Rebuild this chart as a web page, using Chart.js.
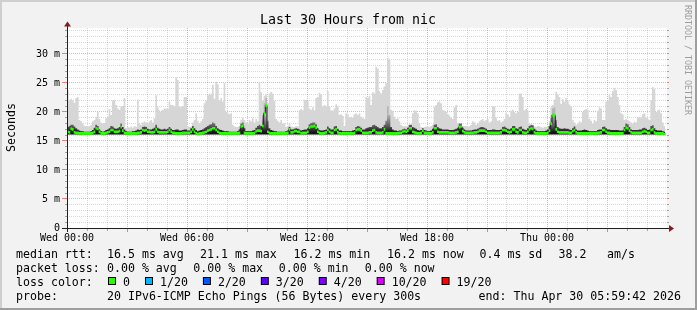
<!DOCTYPE html>
<html>
<head>
<meta charset="UTF-8">
<title>Last 30 Hours from nic</title>
<script src="https://cdn.jsdelivr.net/npm/chart.js"></script>
<style>
  html, body { margin: 0; padding: 0; background: #f2f2f2; }
  canvas { display: block; }
</style>
</head>
<body>
<canvas id="chart" width="697" height="310"></canvas>
<script>
// one value every 5 minutes, Wed 00:00 -> Thu 06:00 (ms)
const stepMinutes = 5;

const median = [
  16.6, 16.6, 16.5, 17.1, 17.0, 16.5, 16.4, 16.4, 16.3, 16.3, 16.3, 16.3, // 00h
  16.3, 16.3, 16.3, 16.3, 16.4, 16.6, 17.2, 17.1, 16.6, 16.3, 16.3, 16.3,
  16.4, 16.5, 16.6, 16.9, 16.9, 16.6, 16.6, 16.6, 16.7, 17.4, 16.8, 16.4,
  16.3, 16.3, 16.3, 16.3, 16.3, 16.3, 16.3, 16.4, 16.4, 16.5, 16.9, 16.8,
  16.9, 16.6, 16.6, 16.5, 16.5, 16.6, 17.0, 16.6, 16.5, 16.5, 16.5, 16.5,
  16.5, 16.6, 16.9, 16.6, 16.4, 16.4, 16.3, 16.3, 16.3, 16.3, 16.4, 16.4,
  16.4, 16.4, 16.4, 16.6, 17.0, 16.6, 16.3, 16.2, 16.3, 16.3, 16.4, 16.5, // 06h
  16.6, 16.8, 16.9, 17.0, 17.2, 17.2, 16.9, 16.6, 16.4, 16.3, 16.3, 16.3,
  16.3, 16.3, 16.3, 16.3, 16.3, 16.3, 16.3, 16.3, 16.4, 17.5, 17.6, 16.4,
  16.3, 16.3, 16.3, 16.3, 16.3, 16.4, 16.7, 16.8, 16.8, 16.7, 17.6, 19.8,
  21.1, 16.6, 16.4, 16.3, 16.3, 16.3, 16.3, 16.3, 16.3, 16.3, 16.3, 16.3,
  16.3, 16.4, 17.0, 16.5, 16.5, 16.7, 16.7, 16.6, 16.6, 16.3, 16.4, 16.4,
  16.4, 16.6, 17.3, 17.5, 17.5, 17.6, 17.3, 16.6, 16.4, 16.3, 16.3, 16.4, // 12h
  16.5, 16.9, 16.6, 16.4, 16.4, 16.9, 17.0, 16.5, 16.3, 16.3, 16.3, 16.3,
  16.3, 16.3, 16.3, 16.3, 16.3, 16.4, 16.9, 17.0, 17.0, 16.8, 16.4, 16.4,
  16.4, 16.4, 16.5, 16.5, 16.8, 16.9, 16.5, 16.4, 16.4, 16.4, 16.5, 17.0,
  16.3, 16.3, 16.3, 16.3, 16.3, 16.3, 16.3, 16.3, 16.4, 16.4, 16.6, 16.7,
  16.6, 16.8, 17.2, 17.2, 16.6, 16.5, 16.4, 16.3, 16.3, 16.4, 16.8, 16.4,
  16.4, 16.3, 16.3, 16.3, 16.5, 17.2, 17.2, 16.6, 16.5, 16.5, 16.5, 16.5, // 18h
  16.5, 16.5, 16.4, 16.4, 16.4, 16.4, 16.5, 16.6, 17.4, 17.5, 16.7, 16.5,
  16.4, 16.4, 16.4, 16.4, 16.4, 16.5, 16.5, 16.6, 16.8, 16.8, 16.8, 16.8,
  16.6, 16.4, 16.4, 16.4, 16.4, 16.4, 16.4, 16.4, 16.4, 16.5, 16.9, 16.9,
  16.8, 16.6, 16.5, 16.6, 17.0, 17.0, 16.6, 16.5, 16.9, 16.9, 16.5, 16.4,
  16.4, 16.6, 17.0, 17.2, 17.1, 16.5, 16.3, 16.3, 16.3, 16.3, 16.3, 16.3,
  16.3, 16.4, 16.8, 18.0, 19.5, 19.4, 17.0, 16.6, 16.5, 16.5, 16.5, 16.5, // 00h Thu
  16.5, 16.5, 16.4, 16.4, 16.7, 16.9, 16.5, 16.3, 16.3, 16.3, 16.3, 16.3,
  16.3, 16.3, 16.3, 16.3, 16.3, 16.3, 16.3, 16.4, 16.4, 16.5, 16.9, 16.9,
  16.6, 16.4, 16.4, 16.3, 16.3, 16.3, 16.3, 16.3, 16.3, 16.3, 16.3, 16.9,
  17.3, 17.2, 16.8, 16.5, 16.4, 16.4, 16.4, 16.4, 16.4, 16.4, 16.6, 16.7,
  16.6, 16.4, 16.4, 16.9, 17.0, 16.5, 16.3, 16.3, 16.3, 16.3, 16.3, 16.2
];

// top of the smoke (slowest ping of each round)
const smokeMax = [
  26.3, 23.8, 22.0, 22.3, 22.0, 21.6, 22.4, 22.6, 18.6, 18.4, 18.0, 17.6,
  17.6, 17.5, 17.6, 17.8, 18.4, 18.6, 19.2, 20.0, 18.8, 18.2, 18.0, 18.1,
  19.0, 19.2, 20.5, 19.5, 22.0, 22.1, 21.2, 20.6, 20.4, 21.0, 21.0, 22.4,
  17.2, 17.4, 17.3, 17.5, 17.3, 17.6, 17.4, 22.1, 18.0, 17.8, 18.2, 18.4,
  18.2, 18.0, 18.4, 18.6, 18.2, 18.9, 22.9, 20.8, 20.3, 20.0, 20.4, 20.6,
  20.6, 20.5, 21.8, 21.2, 21.2, 21.0, 26.0, 25.5, 21.0, 20.8, 21.0, 22.6,
  22.6, 17.6, 17.4, 17.5, 18.2, 18.6, 19.8, 18.5, 18.0, 18.4, 18.8, 21.5,
  22.0, 22.9, 23.2, 23.0, 24.7, 22.3, 25.2, 24.8, 22.0, 22.4, 21.8, 25.0,
  20.0, 19.8, 19.6, 19.8, 17.8, 17.5, 17.4, 17.4, 17.6, 18.6, 19.0, 18.6,
  18.2, 18.0, 18.6, 18.4, 19.0, 18.2, 18.8, 18.4, 25.2, 23.4, 22.0, 22.8,
  23.0, 21.5, 23.2, 23.5, 23.2, 22.0, 18.8, 18.5, 18.2, 18.6, 18.0, 18.0,
  17.4, 17.6, 18.0, 17.5, 17.4, 17.4, 17.6, 17.5, 20.3, 20.5, 20.3, 22.1,
  22.1, 22.0, 20.6, 20.4, 20.8, 20.3, 22.4, 22.6, 23.3, 23.0, 21.0, 21.2,
  21.0, 23.6, 21.0, 20.3, 20.2, 20.6, 21.3, 21.0, 19.5, 19.6, 19.3, 17.6,
  19.8, 19.6, 19.0, 19.2, 19.0, 19.6, 19.8, 19.5, 19.8, 19.2, 19.0, 18.8,
  22.6, 22.4, 22.8, 21.2, 23.4, 23.2, 27.8, 27.5, 23.6, 23.2, 23.8, 24.4,
  25.0, 29.3, 29.0, 20.4, 20.2, 19.2, 18.8, 18.9, 18.4, 17.8, 17.6, 17.5,
  17.6, 17.5, 17.6, 17.8, 19.8, 20.3, 20.2, 19.8, 18.0, 17.4, 17.3, 17.4,
  17.5, 17.6, 17.4, 17.6, 17.8, 20.9, 21.2, 21.7, 21.8, 21.5, 20.4, 20.2,
  20.0, 19.6, 19.4, 19.0, 18.8, 20.8, 21.2, 18.0, 17.6, 17.4, 17.5, 17.6,
  17.6, 17.4, 17.6, 17.8, 18.4, 18.2, 17.8, 18.0, 18.4, 18.6, 18.8, 18.4,
  18.6, 18.8, 18.2, 18.4, 21.0, 21.0, 19.0, 18.5, 18.6, 18.2, 18.4, 18.8,
  19.8, 19.6, 19.2, 20.2, 20.4, 20.0, 19.8, 20.0, 23.2, 23.2, 22.6, 20.3,
  20.6, 20.2, 18.0, 17.6, 17.8, 17.5, 17.4, 17.6, 17.5, 17.4, 17.3, 17.4,
  17.4, 17.6, 18.4, 20.8, 21.2, 22.1, 23.5, 23.0, 22.6, 21.4, 22.2, 21.8,
  22.4, 22.0, 21.3, 21.0, 18.6, 18.2, 17.8, 18.0, 18.4, 18.2, 20.0, 20.4,
  20.5, 20.4, 18.8, 18.5, 18.0, 18.6, 18.4, 20.2, 20.8, 20.6, 18.6, 18.6,
  21.8, 22.0, 22.9, 22.6, 23.6, 24.1, 23.8, 22.6, 21.2, 19.8, 19.6, 18.6,
  18.8, 18.6, 18.4, 18.2, 18.0, 18.3, 18.2, 19.0, 19.2, 19.0, 19.6, 19.8,
  19.0, 18.8, 18.6, 22.0, 24.3, 24.0, 20.0, 20.3, 20.4, 19.8, 18.2, 17.6
];

// dense part of the smoke just above the median
const smokeMid = [
  17.2, 17.4, 17.6, 17.8, 17.8, 17.5, 17.2, 17.0, 16.8, 16.7, 16.7, 16.6,
  16.6, 16.6, 16.6, 16.7, 16.9, 17.3, 17.8, 17.6, 17.0, 16.7, 16.6, 16.7,
  16.9, 17.0, 17.2, 17.6, 17.5, 17.2, 17.1, 17.2, 17.4, 18.0, 17.4, 17.0,
  16.7, 16.6, 16.6, 16.6, 16.7, 16.7, 16.8, 17.0, 16.9, 17.0, 17.4, 17.5,
  17.4, 17.1, 17.0, 17.0, 17.1, 17.3, 17.8, 17.3, 17.1, 17.0, 17.0, 17.1,
  17.0, 17.1, 17.4, 17.1, 16.9, 16.9, 17.0, 17.0, 16.8, 16.8, 16.9, 17.0,
  17.0, 16.8, 16.8, 17.2, 17.6, 17.2, 16.9, 16.7, 16.8, 16.9, 17.0, 17.2,
  17.4, 17.6, 17.8, 17.9, 18.2, 18.0, 17.6, 17.2, 17.0, 16.9, 16.8, 16.7,
  16.7, 16.7, 16.6, 16.6, 16.6, 16.6, 16.6, 16.7, 17.0, 18.0, 18.2, 17.2,
  16.7, 16.7, 16.7, 16.7, 16.8, 16.9, 17.3, 17.6, 17.8, 17.6, 19.5, 21.5,
  22.4, 18.5, 17.2, 16.9, 16.8, 16.7, 16.7, 16.6, 16.6, 16.6, 16.6, 16.6,
  16.7, 16.8, 17.4, 17.0, 17.0, 17.1, 17.2, 17.1, 17.0, 16.8, 16.9, 17.0,
  17.0, 17.2, 17.9, 18.1, 18.2, 18.2, 17.9, 17.2, 16.9, 16.8, 16.8, 16.9,
  17.0, 17.5, 17.2, 17.0, 17.0, 17.5, 17.6, 17.1, 16.8, 16.8, 16.7, 16.7,
  16.7, 16.7, 16.7, 16.7, 16.8, 16.9, 17.4, 17.6, 17.5, 17.3, 17.0, 17.0,
  17.2, 17.3, 17.4, 17.4, 17.7, 17.8, 17.6, 17.4, 17.2, 17.2, 17.4, 17.8,
  18.5, 21.0, 19.5, 17.4, 17.0, 16.8, 16.8, 16.7, 16.8, 16.8, 17.0, 17.1,
  17.0, 17.3, 17.8, 17.8, 17.4, 17.3, 17.1, 16.9, 16.8, 16.9, 17.2, 16.9,
  16.8, 16.7, 16.7, 16.8, 17.1, 17.8, 17.9, 17.4, 17.2, 17.1, 17.0, 17.0,
  17.0, 17.0, 16.9, 16.9, 16.9, 17.0, 17.1, 17.3, 18.0, 18.0, 17.3, 17.0,
  16.8, 16.8, 16.8, 16.8, 16.9, 17.0, 17.0, 17.1, 17.3, 17.4, 17.4, 17.3,
  17.1, 16.9, 16.9, 16.9, 17.0, 17.0, 16.9, 16.9, 16.9, 17.0, 17.4, 17.5,
  17.3, 17.1, 17.0, 17.2, 17.6, 17.6, 17.2, 17.1, 17.4, 17.5, 17.1, 17.0,
  16.9, 17.2, 17.6, 17.8, 17.7, 17.1, 16.8, 16.7, 16.7, 16.7, 16.7, 16.7,
  16.8, 17.0, 17.6, 19.0, 20.6, 20.8, 18.6, 17.4, 17.2, 17.1, 17.1, 17.2,
  17.1, 17.1, 17.0, 16.9, 17.2, 17.5, 17.0, 16.8, 16.8, 16.8, 16.9, 17.0,
  16.9, 16.8, 16.7, 16.7, 16.7, 16.7, 16.7, 16.9, 17.0, 17.0, 17.4, 17.5,
  17.2, 17.0, 17.0, 16.9, 16.9, 16.9, 16.9, 16.9, 16.8, 16.8, 16.8, 17.4,
  18.0, 17.9, 17.4, 17.0, 16.9, 16.9, 16.9, 16.9, 17.0, 17.0, 17.2, 17.3,
  17.1, 16.9, 17.0, 17.6, 17.7, 17.2, 16.9, 16.8, 16.8, 16.8, 16.7, 16.6
];
const smokeBase = 16.1;

const xTickHours = [0, 6, 12, 18, 24];
const xTickLabels = ['Wed 00:00', 'Wed 06:00', 'Wed 12:00', 'Wed 18:00', 'Thu 00:00'];
const yTickValues = [0, 5, 10, 15, 20, 25, 30];
const yTickLabels = ['0', '5 m', '10 m', '15 m', '20 m', '25 m', '30 m'];

const titleText = 'Last 30 Hours from nic';
const rttStats = ['16.5 ms avg', '21.1 ms max', '16.2 ms min', '16.2 ms now', '0.4 ms sd', '38.2', 'am/s'];
const lossStats = ['0.00 % avg', '0.00 % max', '0.00 % min', '0.00 % now'];
const lossLabels = ['0', '1/20', '2/20', '3/20', '4/20', '10/20', '19/20'];
const lossColors = ['#26ff00', '#00b8ff', '#0059ff', '#5e00ff', '#7e00ff', '#dd00ff', '#ff0000'];
const probeText = '20 IPv6-ICMP Echo Pings (56 Bytes) every 300s';
const endText = 'end: Thu Apr 30 05:59:42 2026';

const MONO = "'DejaVu Sans Mono', monospace";
const medianBand = 0.23; // half height of the green median band, in ms
const hours = median.map((_, i) => i * stepMinutes / 60);
const pts = arr => arr.map((v, i) => ({ x: hours[i], y: v }));
const bandTop = median.map((v, i) => ({ x: hours[i], y: v + medianBand }));
const bandBottom = median.map((v, i) => ({ x: hours[i], y: v - medianBand }));

const minorGrid = 'rgba(143,143,143,0.35)';
const majorGrid = 'rgba(222,80,80,0.45)';

function smokeGradient(c) {
  const chart = c.chart;
  const y = chart.scales.y;
  if (!chart.chartArea || !y) return '#6a6a6a';
  const g = chart.ctx.createLinearGradient(0, y.getPixelForValue(16.5), 0, y.getPixelForValue(19.5));
  g.addColorStop(0, '#141414');
  g.addColorStop(0.3, '#505050');
  g.addColorStop(1, '#b4b4b4');
  return g;
}

// background, shading and text the way rrdtool paints them
const rrdFrame = {
  id: 'rrdFrame',
  beforeDraw(chart) {
    const { ctx, chartArea: a, width: W, height: H } = chart;
    ctx.save();
    ctx.fillStyle = '#f2f2f2';
    ctx.fillRect(0, 0, W, H);
    ctx.fillStyle = '#cfcfcf';
    ctx.fillRect(0, 0, W, 2);
    ctx.fillRect(0, 0, 2, H);
    ctx.fillStyle = '#9e9e9e';
    ctx.fillRect(0, H - 2, W, 2);
    ctx.fillRect(W - 2, 0, 2, H);
    ctx.fillStyle = '#ffffff';
    ctx.fillRect(a.left, a.top, a.right - a.left, a.bottom - a.top);
    ctx.restore();
  },
  afterDraw(chart) {
    const { ctx, chartArea: a, scales: { x, y } } = chart;
    ctx.save();

    // tick marks
    for (let h = 1; h < 30; h++) {
      const px = Math.floor(x.getPixelForValue(h));
      ctx.fillStyle = h % 3 === 0 ? 'rgba(222,80,80,0.7)' : 'rgba(143,143,143,0.8)';
      ctx.fillRect(px, a.bottom + 1, 1, h % 3 === 0 ? 3 : 2);
    }
    for (let v = 1; v <= 34; v++) {
      const py = Math.floor(y.getPixelForValue(v));
      const major = v % 5 === 0;
      ctx.fillStyle = major ? 'rgba(222,80,80,0.7)' : 'rgba(143,143,143,0.8)';
      ctx.fillRect(major ? a.left - 5 : a.left - 2, py, major ? 5 : 2, 1);
      ctx.fillRect(a.right, py, 2, 1);
    }

    // axes + arrows
    const ox = Math.floor(a.left) + 0.5, oy = Math.floor(a.bottom) + 0.5;
    ctx.strokeStyle = '#1f1f1f';
    ctx.lineWidth = 1;
    ctx.beginPath();
    ctx.moveTo(a.left - 5, oy); ctx.lineTo(a.right + 4, oy);
    ctx.moveTo(ox, a.bottom + 4); ctx.lineTo(ox, a.top - 4);
    ctx.stroke();
    ctx.fillStyle = '#801f1f';
    ctx.beginPath();
    ctx.moveTo(a.right + 2, oy - 3.5); ctx.lineTo(a.right + 2, oy + 3.5); ctx.lineTo(a.right + 7, oy);
    ctx.closePath(); ctx.fill();
    ctx.beginPath();
    ctx.moveTo(ox - 3.5, a.top - 1.5); ctx.lineTo(ox + 3.5, a.top - 1.5); ctx.lineTo(ox, a.top - 6.5);
    ctx.closePath(); ctx.fill();

    // title
    ctx.fillStyle = '#000';
    ctx.textBaseline = 'alphabetic';
    ctx.font = '13.3px ' + MONO;
    ctx.textAlign = 'center';
    ctx.fillText(titleText, 348, 24);

    // vertical label
    ctx.font = '11.6px ' + MONO;
    ctx.save();
    ctx.translate(15, 127.5);
    ctx.rotate(-Math.PI / 2);
    ctx.fillText('Seconds', 0, 0);
    ctx.restore();

    // watermark
    ctx.save();
    ctx.translate(685, 5);
    ctx.rotate(Math.PI / 2);
    ctx.textAlign = 'left';
    ctx.font = '8.3px ' + MONO;
    ctx.fillStyle = '#9c9c9c';
    ctx.fillText('RRDTOOL / TOBI OETIKER', 0, 0);
    ctx.restore();

    // legend
    ctx.textAlign = 'left';
    ctx.font = '11.6px ' + MONO;
    ctx.fillStyle = '#000';
    ctx.fillText('median rtt:', 16, 258);
    const rttX = [107, 200, 293.5, 387, 479.5, 558.5, 607];
    rttStats.forEach((s, i) => ctx.fillText(s, rttX[i], 258));

    ctx.fillText('packet loss:', 16, 272);
    const lossX = [107, 193.3, 278.8, 364.8];
    lossStats.forEach((s, i) => ctx.fillText(s, lossX[i], 272));

    ctx.fillText('loss color:', 16, 286);
    let bx = 108;
    lossLabels.forEach((lab, i) => {
      ctx.fillStyle = '#000';
      ctx.fillRect(bx, 277, 8, 8);
      ctx.fillStyle = lossColors[i];
      ctx.fillRect(bx + 1, 278, 6, 6);
      ctx.fillStyle = '#000';
      ctx.fillText(lab, bx + 15, 286);
      bx += 15 + ctx.measureText(lab).width + 15;
    });

    ctx.fillText('probe:', 16, 300);
    ctx.fillText(probeText, 107, 300);
    ctx.textAlign = 'right';
    ctx.fillText(endText, 681, 300);

    ctx.restore();
  }
};

const baseLine = { pointRadius: 0, stepped: 'after', tension: 0 };
const noStroke = { borderWidth: 0, borderColor: 'rgba(0,0,0,0)' };

new Chart(document.getElementById('chart'), {
  type: 'line',
  data: {
    datasets: [
      // green median band, filled between its top and bottom edge
      Object.assign({ label: 'median rtt', data: bandTop, backgroundColor: '#26ff00', fill: '+1', order: 0 }, noStroke, baseLine),
      Object.assign({ label: 'median low', data: bandBottom, fill: false, order: 0 }, noStroke, baseLine),
      // thin dark median line (shows on the steps)
      Object.assign({
        label: 'median line', data: pts(median), borderColor: '#202020', borderWidth: 1,
        borderCapStyle: 'butt', fill: false, order: 1
      }, baseLine),
      Object.assign({
        label: 'smoke', data: pts(smokeMid), backgroundColor: smokeGradient,
        fill: { value: smokeBase }, order: 2
      }, noStroke, baseLine),
      Object.assign({
        label: 'smoke max', data: pts(smokeMax), backgroundColor: '#d6d6d6',
        fill: { value: smokeBase }, order: 3
      }, noStroke, baseLine)
    ]
  },
  options: {
    responsive: false,
    animation: false,
    devicePixelRatio: 1,
    events: [],
    layout: { padding: { left: 0, right: 30, top: 28, bottom: 0 } },
    plugins: {
      legend: { display: false },
      tooltip: { enabled: false },
      title: { display: false },
      filler: { propagate: false }
    },
    scales: {
      x: {
        type: 'linear',
        min: 0,
        max: 30,
        z: 1,
        afterFit(s) { s.height = 82; },
        border: { display: false, dash: [1, 1] },
        grid: {
          drawTicks: false,
          lineWidth: 1,
          color: c => {
            const v = c.tick.value;
            if (v === 0 || v === 30) return 'rgba(0,0,0,0)';
            return v % 3 === 0 ? majorGrid : minorGrid;
          }
        },
        ticks: {
          stepSize: 1,
          autoSkip: false,
          includeBounds: false,
          maxRotation: 0,
          minRotation: 0,
          padding: 4,
          color: '#000',
          font: { family: MONO, size: 10 },
          callback: v => {
            const k = xTickHours.indexOf(v);
            return k >= 0 ? xTickLabels[k] : '';
          }
        }
      },
      y: {
        type: 'linear',
        min: 0,
        max: 34.48,
        z: 1,
        afterFit(s) { s.width = 67; },
        border: { display: false, dash: [1, 1] },
        grid: {
          drawTicks: false,
          lineWidth: 1,
          color: c => {
            const v = c.tick.value;
            if (v === 0) return 'rgba(0,0,0,0)';
            return v % 5 === 0 ? majorGrid : minorGrid;
          }
        },
        ticks: {
          stepSize: 1,
          autoSkip: false,
          includeBounds: false,
          padding: 7,
          color: '#000',
          font: { family: MONO, size: 10 },
          callback: v => {
            const k = yTickValues.indexOf(v);
            return k >= 0 ? yTickLabels[k] : '';
          }
        }
      }
    }
  },
  plugins: [rrdFrame]
});
</script>
</body>
</html>
